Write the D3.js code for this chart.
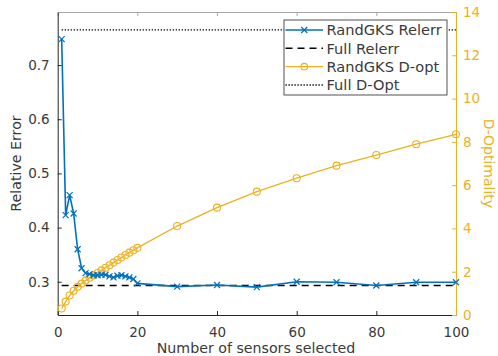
<!DOCTYPE html>
<html><head><meta charset="utf-8">
<script src="https://cdn.jsdelivr.net/npm/d3@7"></script>
<style>body{margin:0;background:#fff}svg{display:block}text{font-family:"DejaVu Sans",sans-serif}</style>
</head><body><svg id="c" width="498" height="356"></svg>
<script>
const sensors = [1,2,3,4,5,6,7,8,9,10,11,12,13,14,15,16,17,18,19,20,30,40,50,60,70,80,90,100];
const relerr = [0.748,0.423,0.460,0.426,0.360,0.325,0.316,0.314,0.312,0.312,0.313,0.313,0.310,0.308,0.311,0.312,0.310,0.308,0.305,0.297,0.291,0.294,0.290,0.300,0.299,0.293,0.299,0.299];
const dopt = [0.30,0.62,0.90,1.12,1.30,1.45,1.59,1.72,1.83,1.94,2.06,2.18,2.30,2.42,2.54,2.66,2.77,2.88,2.99,3.10,4.11,4.96,5.70,6.32,6.90,7.39,7.89,8.35];
const fullRelerr = 0.293;
const fullDopt = 13.17;
const xTicks = [0,20,40,60,80,100];
const yLeftTicks = [0.3,0.4,0.5,0.6,0.7];
const yRightTicks = [0,2,4,6,8,10,12,14];
const legendLabels = ["RandGKS Relerr","Full Relerr","RandGKS D-opt","Full D-Opt"];

const blue = "#0072BD", orange = "#EDB120", axc = "#262626", txc = "#3a3a3a";
const L = 57.7, R = 456, T = 12, B = 315;
const svg = d3.select("#c");
const x = d3.scaleLinear().domain([0,100]).range([L,R]);
const yl = d3.scaleLinear().domain([0.2386,0.798]).range([B,T]);
const yr = d3.scaleLinear().domain([0,14]).range([B,T]);

// axes
const gx = svg.append("g").attr("transform",`translate(0,${B})`)
  .call(d3.axisBottom(x).tickValues(xTicks).tickSize(-4).tickPadding(8).tickSizeOuter(0));
gx.select(".domain").attr("stroke",axc);
gx.selectAll(".tick line").attr("stroke",axc);
gx.selectAll(".tick text").attr("fill",txc).attr("font-size",13.5).attr("dy","1.0em");
const gt = svg.append("g").attr("transform",`translate(0,${T})`)
  .call(d3.axisTop(x).tickValues(xTicks).tickSize(-4).tickFormat("").tickSizeOuter(0));
gt.select(".domain").attr("stroke","#a6a6a6");
gt.selectAll(".tick line").attr("stroke","#a6a6a6");
const gl = svg.append("g").attr("transform",`translate(${L},0)`)
  .call(d3.axisLeft(yl).tickValues(yLeftTicks).tickFormat(d3.format(".1f")).tickSize(-4).tickPadding(8).tickSizeOuter(0));
gl.select(".domain").attr("stroke",axc);
gl.selectAll(".tick line").attr("stroke",axc);
gl.selectAll(".tick text").attr("fill",txc).attr("font-size",13.5);
const gr = svg.append("g").attr("transform",`translate(${R},0)`)
  .call(d3.axisRight(yr).tickValues(yRightTicks).tickSize(-4).tickPadding(7).tickSizeOuter(0));
gr.select(".domain").attr("stroke",orange);
gr.selectAll(".tick line").attr("stroke",orange);
gr.selectAll(".tick text").attr("fill",orange).attr("font-size",13.5);

// labels
svg.append("text").attr("x",256).attr("y",353).attr("text-anchor","middle").attr("font-size",14.2).attr("fill",txc).text("Number of sensors selected");
svg.append("text").attr("transform",`translate(21,${(T+B)/2}) rotate(-90)`).attr("text-anchor","middle").attr("font-size",14.2).attr("fill",txc).text("Relative Error");
svg.append("text").attr("transform",`translate(484,${(T+B)/2}) rotate(90)`).attr("text-anchor","middle").attr("font-size",14).attr("fill",orange).text("D-Optimality");

// reference lines
svg.append("line").attr("x1",x(1)).attr("x2",x(100)).attr("y1",yr(fullDopt)).attr("y2",yr(fullDopt))
  .attr("stroke","#000").attr("stroke-width",1.3).attr("stroke-dasharray","1.3,1.7");
svg.append("line").attr("x1",x(1)).attr("x2",x(100)).attr("y1",yl(fullRelerr)).attr("y2",yl(fullRelerr))
  .attr("stroke","#000").attr("stroke-width",1.6).attr("stroke-dasharray","7,5");

// orange series
const data = sensors.map((s,i)=>({s, e:relerr[i], d:dopt[i]}));
svg.append("path").datum(data).attr("fill","none").attr("stroke",orange).attr("stroke-width",1.3)
  .attr("d",d3.line().x(d=>x(d.s)).y(d=>yr(d.d)));
svg.append("g").selectAll("circle").data(data).join("circle")
  .attr("cx",d=>x(d.s)).attr("cy",d=>yr(d.d)).attr("r",3.5)
  .attr("fill","none").attr("stroke",orange).attr("stroke-width",1.1);

// blue series
svg.append("path").datum(data).attr("fill","none").attr("stroke",blue).attr("stroke-width",1.6)
  .attr("d",d3.line().x(d=>x(d.s)).y(d=>yl(d.e)));
const xm = 3;
svg.append("g").selectAll("path").data(data).join("path")
  .attr("d",d=>{const cx=x(d.s), cy=yl(d.e);return `M${cx-xm},${cy-xm}L${cx+xm},${cy+xm}M${cx-xm},${cy+xm}L${cx+xm},${cy-xm}`;})
  .attr("stroke",blue).attr("stroke-width",1.2).attr("fill","none");

// legend
const lg = svg.append("g");
lg.append("rect").attr("x",284).attr("y",20).attr("width",163).attr("height",75).attr("fill","#fff").attr("stroke",axc).attr("stroke-width",0.8);
const rows = [30,48.3,66.7,85];
const lx1 = 285.5, lx2 = 323;
legendLabels.forEach((lab,i)=>{
  const y = rows[i];
  const ln = lg.append("line").attr("x1",lx1).attr("x2",lx2).attr("y1",y).attr("y2",y);
  if(i===0) ln.attr("stroke",blue).attr("stroke-width",1.6);
  if(i===1) ln.attr("stroke","#000").attr("stroke-width",1.6).attr("stroke-dasharray","7,5");
  if(i===2) ln.attr("stroke",orange).attr("stroke-width",1.3);
  if(i===3) ln.attr("stroke","#000").attr("stroke-width",1.3).attr("stroke-dasharray","1.3,1.7");
  const mx = (lx1+lx2)/2;
  if(i===0) lg.append("path").attr("d",`M${mx-xm},${y-xm}L${mx+xm},${y+xm}M${mx-xm},${y+xm}L${mx+xm},${y-xm}`).attr("stroke",blue).attr("stroke-width",1.2);
  if(i===2) lg.append("circle").attr("cx",mx).attr("cy",y).attr("r",3.3).attr("fill","none").attr("stroke",orange).attr("stroke-width",1.1);
  lg.append("text").attr("x",326.5).attr("y",y).attr("dy","0.36em").attr("font-size",14.6).attr("fill",txc).text(lab);
});
</script></body></html>
